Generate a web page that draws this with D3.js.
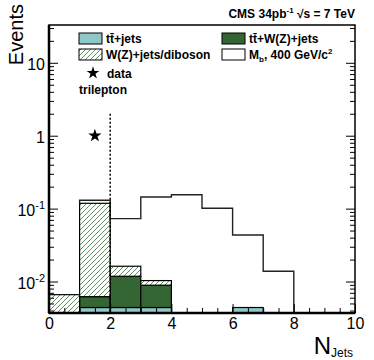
<!DOCTYPE html>
<html>
<head>
<meta charset="utf-8">
<script src="https://cdn.jsdelivr.net/npm/d3@7"></script>
<style>
  body { margin: 0; background: #fff; }
  svg { display: block; font-family: "Liberation Sans", Arial, sans-serif; }
</style>
</head>
<body>
<svg id="chart" width="374" height="360"></svg>
<script>
// Bins in N_Jets, one value per bin [i, i+1)
const binStarts = [0, 1, 2, 3, 4, 5, 6, 7, 8, 9];
const ttJets       = [0, 0.0044, 0.0044, 0.0044, 0, 0, 0.0044, 0, 0, 0];
const ttVJets      = [0, 0.0018, 0.0074, 0.0045, 0, 0, 0, 0, 0, 0];
const vJetsDiboson = [0.0066, 0.112, 0.0044, 0.0014, 0, 0, 0, 0, 0, 0];
const signalMb400  = [0, 0.012, 0.0568, 0.134, 0.155, 0.101, 0.039, 0.0138, 0, 0];

// observed trilepton events
const dataX = [1.5];
const dataY = [1];

// N_Jets cut
const cutX = [2];
const cutTop = [2];

const xTicks = [0, 2, 4, 6, 8, 10];
const yTicks = [0.01, 0.1, 1, 10];
const yTickExp = ["-2", "-1", "", ""];

const svg = d3.select('#chart');
const plotL = 49, plotR = 355, plotT = 25, plotB = 313;

const x = d3.scaleLinear().domain([0, 10]).range([plotL, plotR]);
const y = d3.scaleLog().domain([0.0037, 33]).range([plotB, plotT]);
const yMin = y.domain()[0];

// hatch pattern
const defs = svg.append('defs');
const pat = defs.append('pattern')
    .attr('id', 'hatch')
    .attr('patternUnits', 'userSpaceOnUse')
    .attr('width', 5).attr('height', 5);
pat.append('rect').attr('width', 5).attr('height', 5).attr('fill', '#fff');
pat.append('path')
    .attr('d', 'M-1,6 L6,-1 M-1,1 L1,-1 M4,6 L6,4')
    .attr('stroke', '#5f925f').attr('stroke-width', 1);

// stack the backgrounds
const layers = [
    { values: ttJets, fill: '#8ec8c8' },
    { values: ttVJets, fill: '#346634' },
    { values: vJetsDiboson, fill: 'url(#hatch)' }
];
const cum = binStarts.map(() => 0);
const gStack = svg.append('g');
layers.forEach(layer => {
    binStarts.forEach((b, i) => {
        const v = layer.values[i];
        if (v <= 0) return;
        const lo = cum[i];
        const hi = lo + v;
        cum[i] = hi;
        gStack.append('rect')
            .attr('x', x(b))
            .attr('width', x(b + 1) - x(b))
            .attr('y', y(hi))
            .attr('height', (lo > 0 ? y(lo) : y(yMin)) - y(hi))
            .attr('fill', layer.fill)
            .attr('stroke', '#000')
            .attr('stroke-width', 1.2);
    });
});
const bgTop = cum.slice();

// signal stacked on top, drawn as outline
const total = binStarts.map((b, i) => bgTop[i] + signalMb400[i]);
const sigPts = [[1, bgTop[1]]];
binStarts.forEach((b, i) => {
    if (signalMb400[i] > 0) sigPts.push([b, total[i]]);
});
sigPts.push([8, total[7]]);
sigPts.push([8, yMin]);
svg.append('path')
    .attr('d', d3.line().curve(d3.curveStepAfter).x(d => x(d[0])).y(d => y(d[1]))(sigPts))
    .attr('fill', 'none')
    .attr('stroke', '#222')
    .attr('stroke-width', 1.4);

// cut line
svg.append('line')
    .attr('x1', x(cutX[0])).attr('x2', x(cutX[0]))
    .attr('y1', y(cutTop[0])).attr('y2', y(yMin))
    .attr('stroke', '#000').attr('stroke-width', 1.5)
    .attr('stroke-dasharray', '2,2');

// data
dataX.forEach((dx, i) => {
    svg.append('path')
        .attr('d', d3.symbol().type(d3.symbolStar).size(55)())
        .attr('transform', `translate(${x(dx)},${y(dataY[i])})`)
        .attr('fill', '#000');
});

// axes: ticks inside
const minorX = d3.range(0, 10.01, 0.5).filter(v => v % 2 !== 0);
const gx = svg.append('g').attr('transform', `translate(0,${plotB})`);
gx.call(d3.axisBottom(x).tickValues(xTicks).tickSize(-9).tickPadding(4).tickFormat(d3.format('d')));
gx.selectAll('.tick text').attr('font-size', 16).attr('font-family', '"Liberation Sans", Arial, sans-serif').attr('dy', '0.75em');
gx.append('g').call(d3.axisBottom(x).tickValues(minorX).tickSize(-5).tickFormat(''));

const minorY = [];
[0.001, 0.01, 0.1, 1, 10].forEach(dec => {
    for (let k = 2; k <= 9; k++) {
        const v = dec * k;
        if (v > yMin && v < 33) minorY.push(v);
    }
});
const gy = svg.append('g').attr('transform', `translate(${plotL},0)`);
gy.call(d3.axisLeft(y).tickValues(yTicks).tickSize(-9).tickFormat(''));
gy.append('g').call(d3.axisLeft(y).tickValues(minorY).tickSize(-5).tickFormat(''));
const gy2 = svg.append('g').attr('transform', `translate(${plotR},0)`);
gy2.call(d3.axisRight(y).tickValues(yTicks).tickSize(-9).tickFormat(''));
gy2.append('g').call(d3.axisRight(y).tickValues(minorY).tickSize(-5).tickFormat(''));
svg.selectAll('.domain').remove();
svg.selectAll('.tick line').attr('stroke', '#000').attr('stroke-width', 1);

// y tick labels with exponents
yTicks.forEach((v, i) => {
    const t = svg.append('text')
        .attr('x', plotL - 4)
        .attr('y', y(v) + 7)
        .attr('text-anchor', 'end')
        .attr('font-size', 16);
    t.append('tspan').text(v >= 1 ? String(v) : '10');
    if (yTickExp[i]) {
        t.append('tspan').attr('font-size', 11).attr('dy', -7).text(yTickExp[i]);
    }
});

// frame
svg.append('rect')
    .attr('x', plotL).attr('y', plotT)
    .attr('width', plotR - plotL).attr('height', plotB - plotT)
    .attr('fill', 'none').attr('stroke', '#000').attr('stroke-width', 1.5);
svg.append('line')
    .attr('x1', plotL).attr('x2', plotR)
    .attr('y1', plotB).attr('y2', plotB)
    .attr('stroke', '#000').attr('stroke-width', 2.5);
svg.append('line')
    .attr('x1', plotL).attr('x2', plotL)
    .attr('y1', plotT).attr('y2', plotB)
    .attr('stroke', '#000').attr('stroke-width', 2.5);

// axis titles
svg.append('text')
    .attr('transform', 'translate(23,4) rotate(-90)')
    .attr('text-anchor', 'end')
    .attr('font-size', 20)
    .text('Events');

const xt = svg.append('text')
    .attr('x', 353).attr('y', 354)
    .attr('text-anchor', 'end')
    .attr('font-size', 24);
xt.append('tspan').text('N');
xt.append('tspan').attr('font-size', 12).attr('dy', 3).text('Jets');

// title
const title = svg.append('text')
    .attr('x', 355).attr('y', 18)
    .attr('text-anchor', 'end')
    .attr('font-size', 12).attr('font-weight', 'bold');
title.append('tspan').text('CMS 34pb');
title.append('tspan').attr('font-size', 8).attr('dy', -5).text('-1');
title.append('tspan').attr('dy', 5).text(' \u221As = 7 TeV');

// legend
const legendItems = [
    { label: 'tt\u0304+jets', fill: '#8ec8c8', bx: 79, by: 33 },
    { label: 'tt\u0304+W(Z)+jets', fill: '#346634', bx: 222, by: 33 },
    { label: 'W(Z)+jets/diboson', fill: 'url(#hatch)', bx: 79, by: 49 },
    { label: 'M', sub: 'b', rest: ', 400 GeV/c', sup: '2', fill: '#fff', bx: 222, by: 49 }
];
const gl = svg.append('g').attr('font-size', 12).attr('font-weight', 'bold');
legendItems.forEach(d => {
    gl.append('rect')
        .attr('x', d.bx).attr('y', d.by)
        .attr('width', 23).attr('height', 11)
        .attr('fill', d.fill).attr('stroke', '#000').attr('stroke-width', 1);
    const t = gl.append('text').attr('x', d.bx + 27).attr('y', d.by + 10);
    t.append('tspan').text(d.label);
    if (d.sub) {
        t.append('tspan').attr('font-size', 8).attr('dy', 3).text(d.sub);
        t.append('tspan').attr('dy', -3).text(d.rest);
        t.append('tspan').attr('font-size', 8).attr('dy', -5).text(d.sup);
    }
});
gl.append('path')
    .attr('d', d3.symbol().type(d3.symbolStar).size(50)())
    .attr('transform', 'translate(93,73)')
    .attr('fill', '#000');
gl.append('text').attr('x', 107).attr('y', 78).text('data');
gl.append('text').attr('x', 79).attr('y', 94).text('trilepton');
</script>
</body>
</html>
